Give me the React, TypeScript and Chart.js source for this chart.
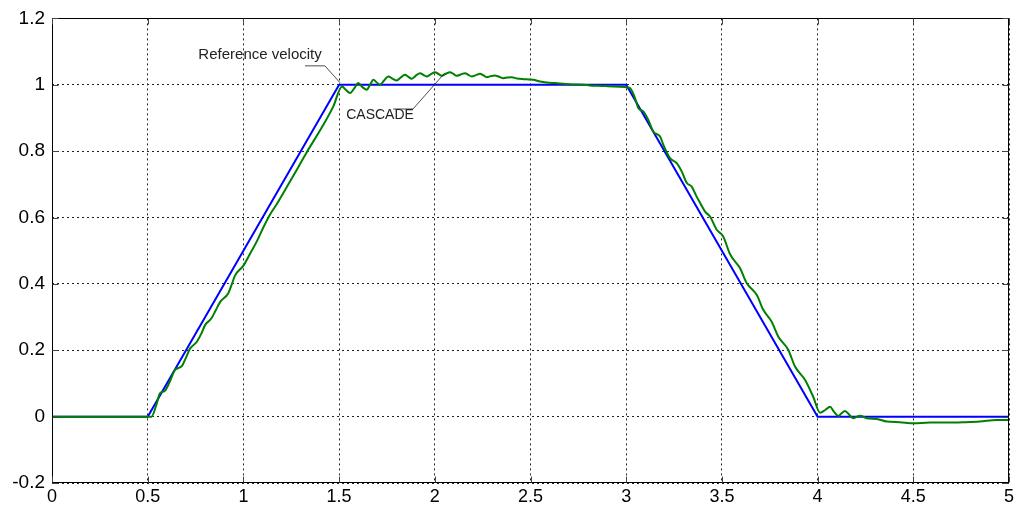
import React, { useEffect, useRef } from "react";
import { Chart, registerables } from "chart.js";

Chart.register(...registerables);

// Reference velocity profile (blue)
const refT = [0, 0.5, 1.5, 3, 4, 5];
const refV = [0, 0, 1, 1, 0, 0];

// CASCADE response (green)
const cascadeT = [
  0, 0.52, 0.545, 0.564, 0.59, 0.615, 0.643, 0.678, 0.7, 0.721, 0.756, 0.78, 0.799, 0.834, 0.855, 0.878,
  0.921, 0.94, 0.956, 1.0, 1.034, 1.07, 1.104, 1.14, 1.174, 1.235, 1.28, 1.331, 1.4, 1.47, 1.515, 1.535,
  1.557, 1.58, 1.6, 1.622, 1.644, 1.662, 1.679, 1.697, 1.714, 1.735, 1.757, 1.78, 1.801, 1.822, 1.844,
  1.862, 1.879, 1.9, 1.923, 1.94, 1.957, 1.98, 2.001, 2.018, 2.036, 2.058, 2.079, 2.097, 2.114, 2.136,
  2.158, 2.175, 2.193, 2.215, 2.236, 2.255, 2.271, 2.292, 2.314, 2.336, 2.358, 2.38, 2.402, 2.43, 2.462,
  2.49, 2.515, 2.55, 2.585, 2.63, 2.672, 2.72, 2.776, 2.81, 2.846, 2.89, 2.933, 2.994, 3.02, 3.046, 3.063,
  3.089, 3.115, 3.141, 3.177, 3.194, 3.229, 3.264, 3.29, 3.317, 3.342, 3.368, 3.39, 3.412, 3.438, 3.473,
  3.507, 3.542, 3.595, 3.63, 3.682, 3.716, 3.76, 3.795, 3.847, 3.882, 3.934, 3.977, 4.013, 4.04, 4.065,
  4.085, 4.108, 4.125, 4.143, 4.165, 4.187, 4.205, 4.222, 4.256, 4.309, 4.361, 4.43, 4.5, 4.587, 4.674,
  4.761, 4.848, 4.935, 5.0,
];
const cascadeV = [
  0, 0, 0.035, 0.07, 0.078, 0.105, 0.141, 0.152, 0.178, 0.205, 0.225, 0.25, 0.275, 0.297, 0.32, 0.345,
  0.372, 0.4, 0.425, 0.455, 0.49, 0.528, 0.57, 0.61, 0.64, 0.7, 0.745, 0.797, 0.862, 0.935, 0.995, 0.985,
  0.975, 0.99, 1.005, 0.993, 0.985, 1.0, 1.015, 1.007, 1.0, 1.013, 1.025, 1.018, 1.013, 1.022, 1.03,
  1.024, 1.018, 1.027, 1.035, 1.03, 1.025, 1.032, 1.038, 1.033, 1.027, 1.033, 1.038, 1.033, 1.027, 1.031,
  1.035, 1.03, 1.025, 1.029, 1.033, 1.028, 1.023, 1.026, 1.028, 1.024, 1.02, 1.022, 1.023, 1.019, 1.017,
  1.016, 1.015, 1.01, 1.007, 1.005, 1.003, 1.001, 1.0, 0.998, 0.997, 0.996, 0.995, 0.993, 0.99, 0.96, 0.93,
  0.92, 0.895, 0.859, 0.844, 0.819, 0.779, 0.764, 0.739, 0.704, 0.693, 0.663, 0.64, 0.618, 0.603, 0.563,
  0.543, 0.49, 0.447, 0.402, 0.367, 0.322, 0.286, 0.241, 0.201, 0.151, 0.111, 0.06, 0.012, 0.02, 0.03,
  0.015, 0.002, 0.01, 0.017, 0.006, -0.005, 0.0, 0.003, -0.005, -0.007, -0.015, -0.017, -0.02, -0.018, -0.018,
  -0.017, -0.015, -0.01, -0.01,
];

const xTickValues = [0, 0.5, 1, 1.5, 2, 2.5, 3, 3.5, 4, 4.5, 5];
const xTickLabels = ["0", "0.5", "1", "1.5", "2", "2.5", "3", "3.5", "4", "4.5", "5"];
const yTickValues = [-0.2, 0, 0.2, 0.4, 0.6, 0.8, 1, 1.2];
const yTickLabels = ["-0.2", "0", "0.2", "0.4", "0.6", "0.8", "1", "1.2"];

// Annotation labels (data coordinates)
const refLabelText = "Reference velocity";
const refLabelPos = [1.087, 1.09];
const refLeader = [[1.322, 1.057], [1.426, 1.057], [1.505, 1.006]];
const cascadeLabelText = "CASCADE";
const cascadeLabelPos = [1.714, 0.907];
const cascadeLeader = [[1.782, 0.927], [1.886, 0.927], [2.053, 1.036]];

const fmt = (vals: number[], labels: string[]) => (v: any) => {
  const i = vals.findIndex((t) => Math.abs(t - Number(v)) < 1e-6);
  return i >= 0 ? labels[i] : "";
};

const framePlugin = {
  id: "matlabFrame",
  afterDraw(chart: any) {
    const { ctx, chartArea: a, scales } = chart;
    const xs = scales.x;
    const ys = scales.y;
    ctx.save();
    ctx.strokeStyle = "#000";
    ctx.lineWidth = 1;
    const L = Math.round(a.left) + 0.5;
    const R = Math.round(a.right) - 0.5;
    const T = Math.round(a.top) + 0.5;
    const B = Math.round(a.bottom) - 0.5;
    ctx.strokeRect(L, T, R - L, B - T);
    const tl = 6;
    ctx.strokeStyle = "#444";
    ctx.beginPath();
    xTickValues.forEach((v) => {
      const p = Math.round(xs.getPixelForValue(v)) + 0.5;
      ctx.moveTo(p, B);
      ctx.lineTo(p, B - tl);
      ctx.moveTo(p, T);
      ctx.lineTo(p, T + tl);
    });
    yTickValues.forEach((v) => {
      const p = Math.round(ys.getPixelForValue(v)) + 0.5;
      ctx.moveTo(L, p);
      ctx.lineTo(L + tl, p);
      ctx.moveTo(R, p);
      ctx.lineTo(R - tl, p);
    });
    ctx.stroke();

    // annotations
    const px = (pt: number[]) => [xs.getPixelForValue(pt[0]), ys.getPixelForValue(pt[1])];
    ctx.strokeStyle = "#222";
    ctx.lineWidth = 0.8;
    [refLeader, cascadeLeader].forEach((ld) => {
      ctx.beginPath();
      ld.forEach((pt, i) => {
        const [x, y] = px(pt);
        if (i === 0) ctx.moveTo(x, y);
        else ctx.lineTo(x, y);
      });
      ctx.stroke();
    });
    ctx.fillStyle = "#222";
    ctx.textAlign = "center";
    ctx.textBaseline = "middle";
    ctx.font = "15px 'Liberation Sans', Arial, sans-serif";
    let [tx, ty] = px(refLabelPos);
    ctx.fillText(refLabelText, tx, ty);
    ctx.font = "14px 'Liberation Sans', Arial, sans-serif";
    [tx, ty] = px(cascadeLabelPos);
    ctx.fillText(cascadeLabelText, tx, ty);
    ctx.restore();
  },
};

export default function App() {
  const ref = useRef<HTMLCanvasElement | null>(null);
  useEffect(() => {
    if (!ref.current) return;
    const chart = new Chart(ref.current, {
      type: "line",
      data: {
        datasets: [
          {
            label: "CASCADE",
            data: cascadeT.map((t, i) => ({ x: t, y: cascadeV[i] })),
            borderColor: "#008000",
            borderWidth: 2,
            pointRadius: 0,
            cubicInterpolationMode: "monotone",
            fill: false,
          },
          {
            label: "Reference velocity",
            data: refT.map((t, i) => ({ x: t, y: refV[i] })),
            borderColor: "#0000ff",
            borderWidth: 2,
            pointRadius: 0,
            tension: 0,
            fill: false,
          },
        ],
      },
      options: {
        animation: false,
        responsive: true,
        maintainAspectRatio: false,
        layout: { padding: { top: 18, right: 15, left: 0, bottom: 0 } },
        plugins: { legend: { display: false }, tooltip: { enabled: false } },
        scales: {
          x: {
            type: "linear",
            min: 0,
            max: 5,
            afterFit: (s: any) => {
              s.height = 27;
            },
            afterBuildTicks: (s: any) => {
              s.ticks = xTickValues.map((v) => ({ value: v }));
            },
            ticks: {
              callback: fmt(xTickValues, xTickLabels),
              color: "#000",
              font: { family: "'Liberation Sans', Arial, sans-serif", size: 18 },
              padding: 3,
              maxRotation: 0,
              autoSkip: false,
            },
            grid: { color: "#222", lineWidth: 1, drawTicks: false },
            border: { display: false, dash: [2, 3] },
          },
          y: {
            type: "linear",
            min: -0.2,
            max: 1.2,
            afterFit: (s: any) => {
              s.width = 52;
            },
            afterBuildTicks: (s: any) => {
              s.ticks = yTickValues.map((v) => ({ value: v }));
            },
            ticks: {
              callback: fmt(yTickValues, yTickLabels),
              color: "#000",
              font: { family: "'Liberation Sans', Arial, sans-serif", size: 19 },
              padding: 7,
              autoSkip: false,
            },
            grid: { color: "#222", lineWidth: 1, drawTicks: false },
            border: { display: false, dash: [2, 3] },
          },
        },
      },
      plugins: [framePlugin],
    });
    return () => chart.destroy();
  }, []);
  return (
    <div style={{ position: "fixed", left: 0, top: 0, width: 1024, height: 510, background: "#fff" }}>
      <canvas ref={ref} />
    </div>
  );
}
